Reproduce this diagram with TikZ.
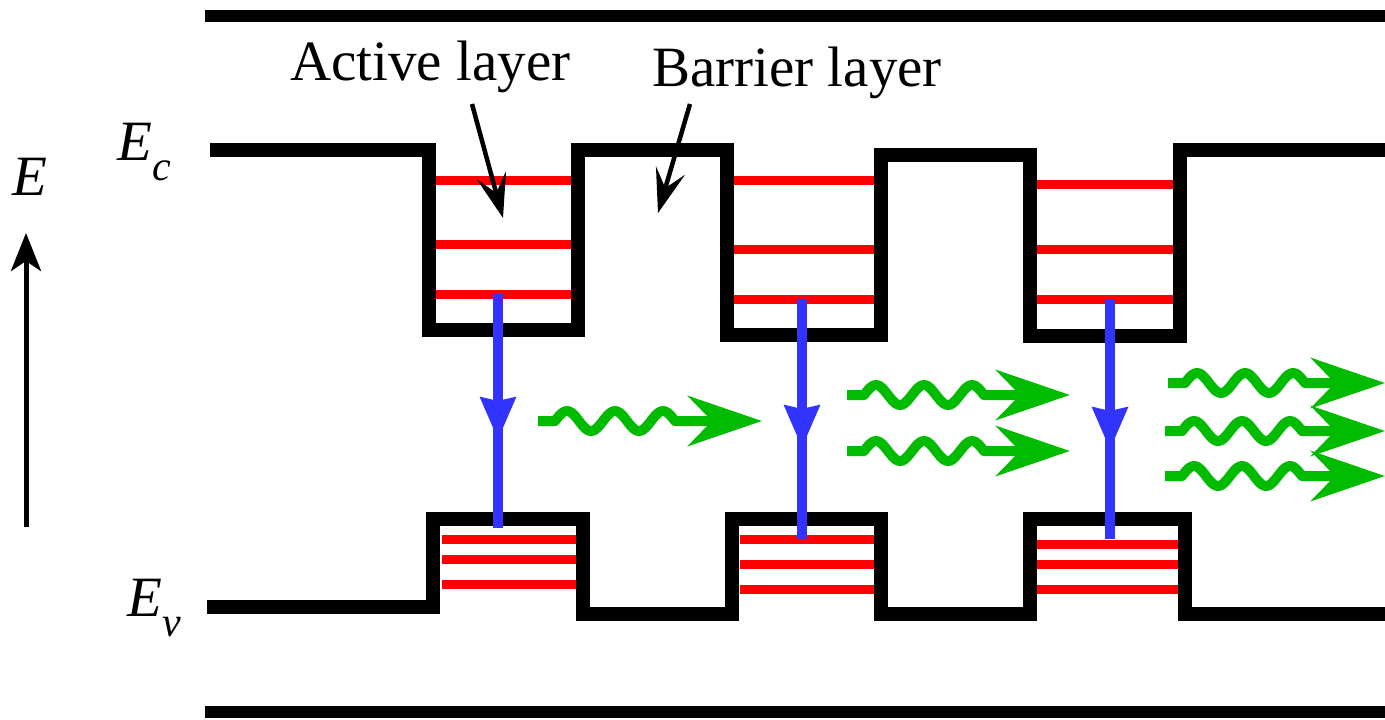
\documentclass[tikz,border=0pt]{standalone}
\usepackage{fontspec}
\setmainfont{LiberationSerif-Regular.ttf}[ItalicFont=LiberationSerif-Italic.ttf]
\usetikzlibrary{arrows.meta}
\definecolor{wavegreen}{RGB}{0,187,0}
\definecolor{eblue}{RGB}{51,51,255}
\newcommand{\wavearrow}[3]{%
  \draw[wave, -{Stealth[length=74pt,width=50pt,inset=24pt]}]
    (#1,#2) -- ++(17,0)
    -- plot[domain=0:120,samples=61] ({#1+17+\x},{#2-10*sin(7.5*\x)})
    -- (#3,#2);}
\begin{document}
\begin{tikzpicture}[x=1pt,y=-1pt,
  band/.style={line width=14pt, line join=miter},
  rail/.style={line width=12pt},
  lvl/.style={red, line width=9pt},
  trans/.style={eblue, line width=10pt},
  wave/.style={wavegreen, line width=10pt, line join=round},
  lbl/.style={font=\fontsize{57}{60}\selectfont, inner sep=0pt, anchor=base west},
  pointer/.style={line width=4.5pt, -{Stealth[length=44pt,width=30pt,inset=18pt]}},
]
\useasboundingbox (0,0) rectangle (1385,720);

% outer rails
\draw[rail] (205,16) -- (1385,16);
\draw[rail] (205,712) -- (1385,712);

% conduction band levels
\foreach \y in {180,244,294} \draw[lvl] (436,\y) -- (571,\y);
\foreach \y in {180,249,299} \draw[lvl] (734,\y) -- (874,\y);
\foreach \y in {184,249,299} \draw[lvl] (1037,\y) -- (1173,\y);
% valence band levels
\foreach \y in {539,559,584} \draw[lvl] (442,\y) -- (576,\y);
\foreach \y in {539,564,589} \draw[lvl] (740,\y) -- (874,\y);
\foreach \y in {544,564,589} \draw[lvl] (1037,\y) -- (1178,\y);

% conduction band edge
\draw[band] (210,150) -- (429,150) -- (429,330) -- (578,330) -- (578,150)
  -- (727,150) -- (727,335) -- (881,335) -- (881,155) -- (1030,155)
  -- (1030,336) -- (1180,336) -- (1180,150) -- (1385,150);
% valence band edge
\draw[band] (207,607) -- (433,607) -- (433,519) -- (583,519) -- (583,614)
  -- (732,614) -- (732,519) -- (881,519) -- (881,614) -- (1030,614)
  -- (1030,519) -- (1185,519) -- (1185,614) -- (1385,614);

% radiative transitions
\draw[trans] (498,294) -- (498,528);
\draw[trans, -{Stealth[length=42pt,width=34pt,inset=3pt]}] (498,320) -- (498,440);
\draw[trans] (802,299) -- (802,539);
\draw[trans, -{Stealth[length=42pt,width=34pt,inset=3pt]}] (802,320) -- (802,448);
\draw[trans] (1110,299) -- (1110,539);
\draw[trans, -{Stealth[length=42pt,width=34pt,inset=3pt]}] (1110,320) -- (1110,450);

% emitted photons
\wavearrow{538}{421}{762}
\wavearrow{847}{395}{1070}
\wavearrow{847}{451}{1070}
\wavearrow{1168}{383}{1385}
\wavearrow{1165}{431}{1385}
\wavearrow{1165}{476}{1385}

% labels
\node[lbl] (active) at (290,80) {Active layer};
\node[lbl] (barrier) at (652,86) {Barrier layer};
\coordinate (activetip) at (503,218);
\coordinate (barriertip) at (658,213);
\draw[pointer] (472,104) -- (activetip);
\draw[pointer] (690,104) -- (barriertip);

\node[lbl] (Elbl) at (12,195) {\itshape E};
\node[lbl] (Ec) at (117,160) {\itshape E\raisebox{-20pt}{\fontsize{42}{44}\selectfont c}};
\node[lbl] (Ev) at (127,616) {\itshape E\raisebox{-20pt}{\fontsize{42}{44}\selectfont v}};

% energy axis
\coordinate (axisfoot) at (26,527);
\coordinate (axishead) at (26,233);
\draw[line width=5pt, -{Stealth[length=38pt,width=30pt,inset=10pt]}] (axisfoot) -- (axishead);
\end{tikzpicture}
\end{document}
